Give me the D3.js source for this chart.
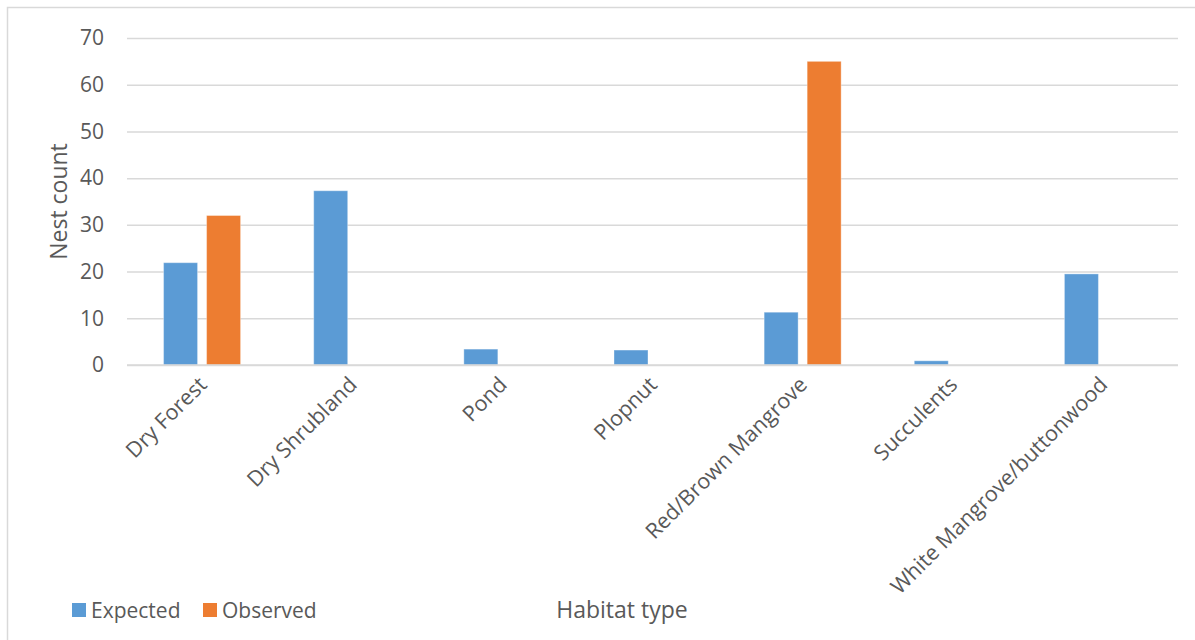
<!DOCTYPE html>
<html>
<head>
<meta charset="utf-8">
<script src="https://cdn.jsdelivr.net/npm/d3@7/dist/d3.min.js"></script>
<style>
  html, body { margin: 0; padding: 0; background: #fff; }
  svg { display: block; }
  text { font-family: "Open Sans", "Noto Sans", sans-serif; fill: #595959; }
</style>
</head>
<body>
<svg id="chart" width="1195" height="640"></svg>
<script>
// Habitat categories along the x axis
const categories = [
  "Dry Forest", "Dry Shrubland", "Pond", "Plopnut",
  "Red/Brown Mangrove", "Succulents", "White Mangrove/buttonwood"
];
// Series names and nest counts per habitat
const seriesNames = ["Expected", "Observed"];
const expected = [21.9, 37.3, 3.4, 3.2, 11.3, 0.9, 19.5];
const observed = [32, 0, 0, 0, 65, 0, 0];
// Y-axis tick values
const yTicks = [0, 10, 20, 30, 40, 50, 60, 70];

const colors = { Expected: "#5b9bd5", Observed: "#ed7d31" };

const svg = d3.select("#chart");
const W = 1195, H = 640;
const margin = { left: 127, right: 17, top: 38, bottom: 275 };
const plotW = W - margin.left - margin.right;
const plotH = H - margin.top - margin.bottom;

// Chart area border
svg.append("rect")
  .attr("x", 7.5).attr("y", 7.5)
  .attr("width", W + 20).attr("height", H + 20)
  .attr("fill", "#fff").attr("stroke", "#d9d9d9").attr("stroke-width", 1.5);

const g = svg.append("g").attr("transform", `translate(${margin.left},${margin.top})`);

const x0 = d3.scaleBand().domain(categories).range([0, plotW]).paddingInner(0).paddingOuter(0);
const x1 = d3.scaleBand().domain(seriesNames).range([0, x0.bandwidth()])
  .paddingInner(0.21).paddingOuter(0.85);
const y = d3.scaleLinear().domain([0, 70]).range([plotH, 0]);

// Gridlines and tick labels
const yAxis = d3.axisLeft(y).tickValues(yTicks).tickSize(-plotW).tickPadding(23).tickFormat(d3.format("d"));
const ya = g.append("g").call(yAxis);
ya.select(".domain").remove();
ya.selectAll(".tick line").attr("stroke", "#d9d9d9").attr("stroke-width", 1.5);
ya.selectAll(".tick text").style("font-size", "21px").attr("fill", "#595959");

// Bars
const rows = categories.map((c, i) => ({ cat: c, Expected: expected[i], Observed: observed[i] }));
const groups = g.selectAll("g.cat").data(rows).join("g")
  .attr("class", "cat")
  .attr("transform", d => `translate(${x0(d.cat)},0)`);
groups.selectAll("rect")
  .data(d => seriesNames.map(s => ({ s, v: d[s] })).filter(e => e.v > 0))
  .join("rect")
  .attr("x", d => x1(d.s))
  .attr("width", x1.bandwidth())
  .attr("y", d => y(d.v))
  .attr("height", d => y(0) - y(d.v))
  .attr("fill", d => colors[d.s])
  .attr("stroke", "#ffffff").attr("stroke-opacity", 0.35).attr("stroke-width", 1);

// Baseline
g.append("line")
  .attr("x1", 0).attr("x2", plotW)
  .attr("y1", y(0)).attr("y2", y(0))
  .attr("stroke", "#d9d9d9").attr("stroke-width", 1.5);

// Rotated category labels
const xa = g.append("g").attr("transform", `translate(0,${plotH})`);
xa.selectAll("text").data(categories).join("text")
  .attr("text-anchor", "end")
  .attr("transform", d => `translate(${x0(d) + x0.bandwidth() / 2 + 6},${21}) rotate(-45)`)
  .style("font-size", "21.5px")
  .text(d => d);

// Axis titles
svg.append("text")
  .attr("transform", `translate(67,${margin.top + plotH / 2}) rotate(-90)`)
  .attr("text-anchor", "middle")
  .style("font-size", "23px")
  .text("Nest count");

svg.append("text")
  .attr("x", 622).attr("y", 618)
  .attr("text-anchor", "middle")
  .style("font-size", "23px")
  .text("Habitat type");

// Legend
const legend = svg.append("g").attr("transform", "translate(72,603)");
const lx = [0, 131];
seriesNames.forEach((s, i) => {
  legend.append("rect").attr("x", lx[i]).attr("y", 0).attr("width", 14).attr("height", 14).attr("fill", colors[s]);
  legend.append("text").attr("x", lx[i] + 19).attr("y", 15).style("font-size", "21px").text(s);
});
</script>
</body>
</html>
